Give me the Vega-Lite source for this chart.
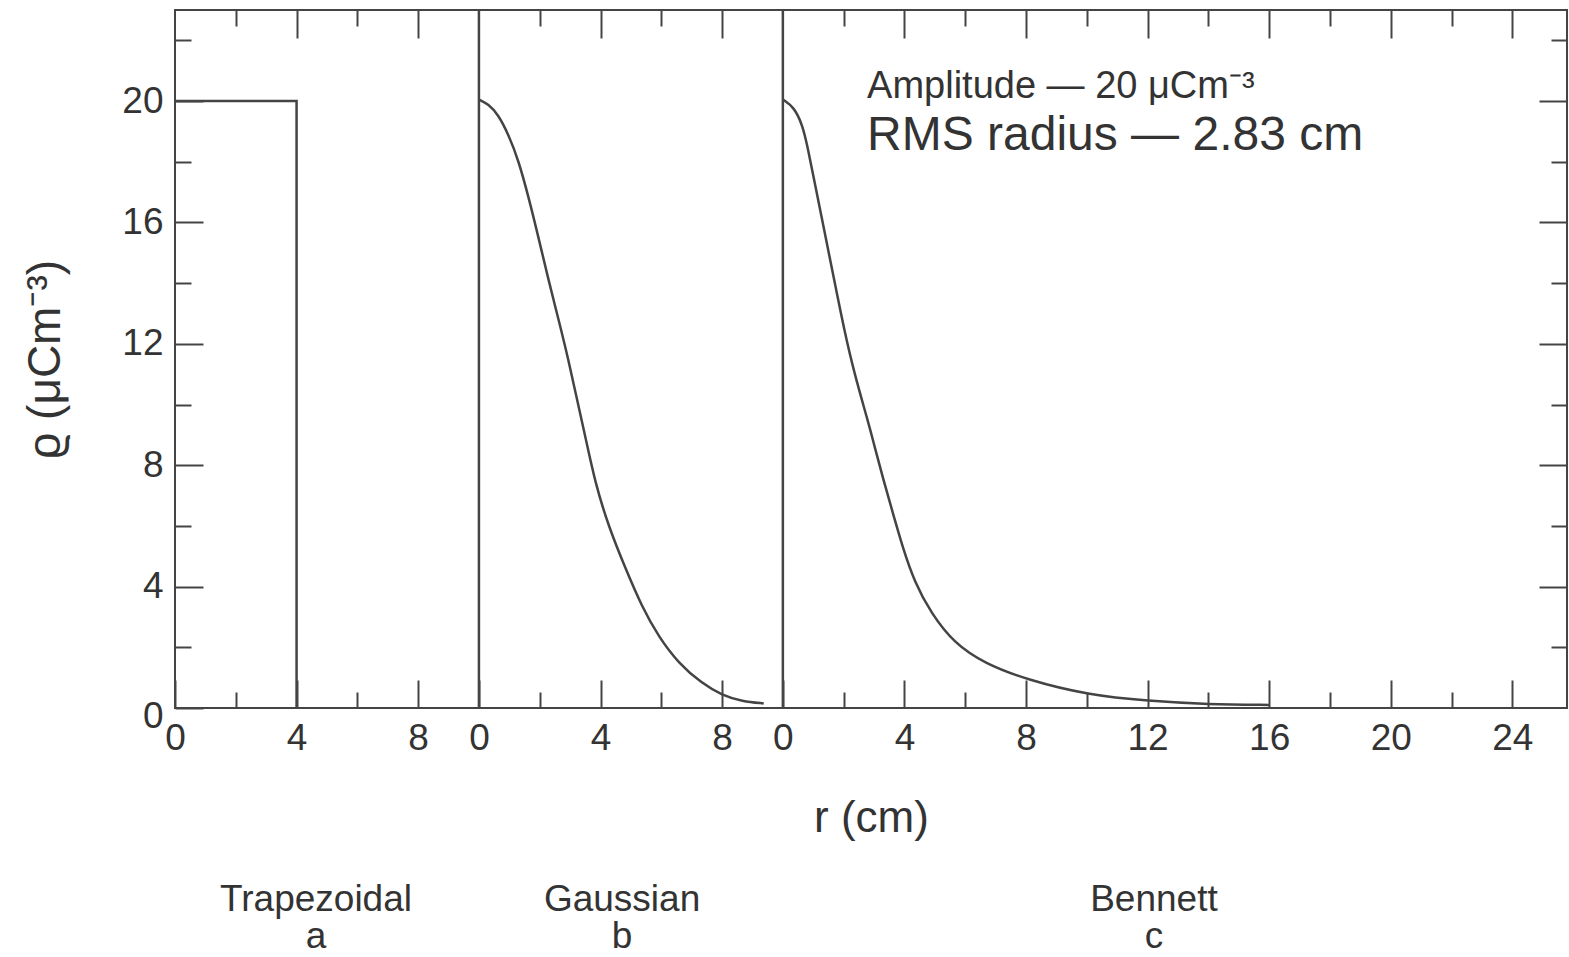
{
  "$schema": "https://vega.github.io/schema/vega-lite/v6.json",
  "width": 1392,
  "height": 698,
  "autosize": {"type": "none"},
  "padding": {"left": 175, "top": 10, "right": 2, "bottom": 249},
  "background": "white",
  "config": {
    "view": {"stroke": "#444", "strokeWidth": 2},
    "font": "Liberation Sans",
    "axis": {
      "grid": false,
      "domain": false,
      "tickColor": "#444",
      "tickWidth": 2,
      "labelFont": "Liberation Sans",
      "labelFontSize": 37,
      "labelColor": "#333",
      "titleFont": "Liberation Sans",
      "titleColor": "#333",
      "titleFontWeight": "normal",
      "labelOverlap": false,
      "labelFlush": false
    }
  },
  "resolve": {"axis": {"x": "independent", "y": "independent"}},
  "layer": [
    {
      "data": {"values": [
        {"i": 0, "r": 0, "rho": 20},
        {"i": 1, "r": 4, "rho": 20},
        {"i": 2, "r": 4, "rho": 0}
      ]},
      "mark": {"type": "line", "color": "#444", "strokeWidth": 2.5},
      "encoding": {
        "x": {"field": "r", "type": "quantitative",
          "scale": {"domain": [0, 45.8], "nice": false, "zero": false},
          "axis": {"orient": "bottom", "values": [0, 4, 8, 10, 14, 18, 20, 24, 28, 32, 36, 40, 44],
            "labelExpr": "datum.value < 10 ? '' + datum.value : (datum.value < 20 ? '' + (datum.value - 10) : '' + (datum.value - 20))",
            "tickSize": -28, "labelPadding": 40,
            "title": "r (cm)", "titleFontSize": 44, "titlePadding": 40}},
        "y": {"field": "rho", "type": "quantitative",
          "scale": {"domain": [0, 23], "nice": false, "zero": false},
          "axis": {"orient": "left", "values": [0, 4, 8, 12, 16, 20],
            "tickSize": -28, "labelPadding": 40,
            "labelOffset": {"condition": {"test": "datum.value === 0", "value": 8}, "value": 0},
            "title": "ϱ (μCm⁻³)", "titleFontSize": 46, "titlePadding": 52}},
        "order": {"field": "i", "type": "quantitative"}
      }
    },
    {
      "data": {"values": [
        {"r": 10, "rho": 20.05}, {"r": 10.31, "rho": 19.9}, {"r": 10.64, "rho": 19.55},
        {"r": 10.97, "rho": 18.9}, {"r": 11.3, "rho": 18.05}, {"r": 11.63, "rho": 16.85},
        {"r": 11.96, "rho": 15.5}, {"r": 12.29, "rho": 14.1}, {"r": 12.62, "rho": 12.8},
        {"r": 12.95, "rho": 11.45}, {"r": 13.22, "rho": 10.2}, {"r": 13.5, "rho": 8.95},
        {"r": 13.83, "rho": 7.4}, {"r": 14.27, "rho": 5.97}, {"r": 14.82, "rho": 4.6},
        {"r": 15.36, "rho": 3.34}, {"r": 15.91, "rho": 2.35}, {"r": 16.57, "rho": 1.47},
        {"r": 17.34, "rho": 0.81}, {"r": 18.0, "rho": 0.42}, {"r": 18.66, "rho": 0.22},
        {"r": 19.37, "rho": 0.15}
      ]},
      "mark": {"type": "line", "color": "#444", "strokeWidth": 2.5, "interpolate": "basis"},
      "encoding": {
        "x": {"field": "r", "type": "quantitative",
          "scale": {"domain": [0, 45.8], "nice": false, "zero": false},
          "axis": {"orient": "bottom", "values": [2, 6, 12, 16, 22, 26, 30, 34, 38, 42],
            "labels": false, "tickSize": -16, "title": null}},
        "y": {"field": "rho", "type": "quantitative",
          "scale": {"domain": [0, 23], "nice": false, "zero": false},
          "axis": {"orient": "left", "values": [2, 6, 10, 14, 18, 22],
            "labels": false, "tickSize": -16, "title": null}}
      }
    },
    {
      "data": {"values": [
        {"r": 20, "rho": 20.05}, {"r": 20.37, "rho": 19.8}, {"r": 20.65, "rho": 19.2},
        {"r": 20.81, "rho": 18.5}, {"r": 21.03, "rho": 17.4}, {"r": 21.36, "rho": 15.75},
        {"r": 21.69, "rho": 14.1}, {"r": 22.02, "rho": 12.45}, {"r": 22.35, "rho": 11.03},
        {"r": 22.79, "rho": 9.49}, {"r": 23.01, "rho": 8.65}, {"r": 23.34, "rho": 7.4},
        {"r": 23.67, "rho": 6.25}, {"r": 23.94, "rho": 5.3}, {"r": 24.33, "rho": 4.15},
        {"r": 24.88, "rho": 3.12}, {"r": 25.64, "rho": 2.13}, {"r": 26.63, "rho": 1.47},
        {"r": 28.06, "rho": 0.92}, {"r": 30.04, "rho": 0.43}, {"r": 32.02, "rho": 0.23},
        {"r": 34.0, "rho": 0.12}, {"r": 36.02, "rho": 0.1}
      ]},
      "mark": {"type": "line", "color": "#444", "strokeWidth": 2.5, "interpolate": "basis"},
      "encoding": {
        "x": {"field": "r", "type": "quantitative",
          "scale": {"domain": [0, 45.8], "nice": false, "zero": false},
          "axis": {"orient": "top", "values": [4, 8, 14, 18, 24, 28, 32, 36, 40, 44],
            "labels": false, "tickSize": -28, "title": null}},
        "y": {"field": "rho", "type": "quantitative",
          "scale": {"domain": [0, 23], "nice": false, "zero": false},
          "axis": {"orient": "right", "values": [4, 8, 12, 16, 20],
            "labels": false, "tickSize": -28, "title": null}}
      }
    },
    {
      "data": {"values": [{"r": 10}, {"r": 20}]},
      "mark": {"type": "rule", "color": "#444", "strokeWidth": 2.5},
      "encoding": {
        "x": {"field": "r", "type": "quantitative",
          "scale": {"domain": [0, 45.8], "nice": false, "zero": false},
          "axis": {"orient": "top", "values": [2, 6, 12, 16, 22, 26, 30, 34, 38, 42],
            "labels": false, "tickSize": -16, "title": null}},
        "y": {"datum": 0, "type": "quantitative",
          "scale": {"domain": [0, 23], "nice": false, "zero": false},
          "axis": {"orient": "right", "values": [2, 6, 10, 14, 18, 22],
            "labels": false, "tickSize": -16, "title": null}},
        "y2": {"datum": 23}
      }
    },
    {
      "data": {"values": [{"t": "Amplitude — 20 μCm⁻³", "u": "RMS radius — 2.83 cm"}]},
      "encoding": {
        "x": {"datum": 22.77, "type": "quantitative",
          "scale": {"domain": [0, 45.8], "nice": false, "zero": false}, "axis": null}
      },
      "layer": [
        {
          "mark": {"type": "text", "align": "left", "baseline": "alphabetic", "fontSize": 38, "color": "#333", "font": "Liberation Sans"},
          "encoding": {
            "y": {"datum": 20.1, "type": "quantitative",
              "scale": {"domain": [0, 23], "nice": false, "zero": false}, "axis": null},
            "text": {"field": "t"}
          }
        },
        {
          "mark": {"type": "text", "align": "left", "baseline": "alphabetic", "fontSize": 48, "color": "#333", "font": "Liberation Sans"},
          "encoding": {
            "y": {"datum": 18.39, "type": "quantitative",
              "scale": {"domain": [0, 23], "nice": false, "zero": false}, "axis": null},
            "text": {"field": "u"}
          }
        }
      ]
    },
    {
      "data": {"values": [{"name": "Trapezoidal", "letter": "a"}]},
      "encoding": {
        "x": {"datum": 4.64, "type": "quantitative",
          "scale": {"domain": [0, 45.8], "nice": false, "zero": false}, "axis": null}
      },
      "layer": [
        {"mark": {"type": "text", "align": "center", "baseline": "alphabetic", "fontSize": 37, "color": "#333", "font": "Liberation Sans"},
         "encoding": {"y": {"datum": -6.69, "type": "quantitative", "scale": {"domain": [0, 23], "nice": false, "zero": false}, "axis": null}, "text": {"field": "name"}}},
        {"mark": {"type": "text", "align": "center", "baseline": "alphabetic", "fontSize": 37, "color": "#333", "font": "Liberation Sans"},
         "encoding": {"y": {"datum": -7.91, "type": "quantitative", "scale": {"domain": [0, 23], "nice": false, "zero": false}, "axis": null}, "text": {"field": "letter"}}}
      ]
    },
    {
      "data": {"values": [{"name": "Gaussian", "letter": "b"}]},
      "encoding": {
        "x": {"datum": 14.71, "type": "quantitative",
          "scale": {"domain": [0, 45.8], "nice": false, "zero": false}, "axis": null}
      },
      "layer": [
        {"mark": {"type": "text", "align": "center", "baseline": "alphabetic", "fontSize": 37, "color": "#333", "font": "Liberation Sans"},
         "encoding": {"y": {"datum": -6.69, "type": "quantitative", "scale": {"domain": [0, 23], "nice": false, "zero": false}, "axis": null}, "text": {"field": "name"}}},
        {"mark": {"type": "text", "align": "center", "baseline": "alphabetic", "fontSize": 37, "color": "#333", "font": "Liberation Sans"},
         "encoding": {"y": {"datum": -7.91, "type": "quantitative", "scale": {"domain": [0, 23], "nice": false, "zero": false}, "axis": null}, "text": {"field": "letter"}}}
      ]
    },
    {
      "data": {"values": [{"name": "Bennett", "letter": "c"}]},
      "encoding": {
        "x": {"datum": 32.21, "type": "quantitative",
          "scale": {"domain": [0, 45.8], "nice": false, "zero": false}, "axis": null}
      },
      "layer": [
        {"mark": {"type": "text", "align": "center", "baseline": "alphabetic", "fontSize": 37, "color": "#333", "font": "Liberation Sans"},
         "encoding": {"y": {"datum": -6.69, "type": "quantitative", "scale": {"domain": [0, 23], "nice": false, "zero": false}, "axis": null}, "text": {"field": "name"}}},
        {"mark": {"type": "text", "align": "center", "baseline": "alphabetic", "fontSize": 37, "color": "#333", "font": "Liberation Sans"},
         "encoding": {"y": {"datum": -7.91, "type": "quantitative", "scale": {"domain": [0, 23], "nice": false, "zero": false}, "axis": null}, "text": {"field": "letter"}}}
      ]
    }
  ]
}
